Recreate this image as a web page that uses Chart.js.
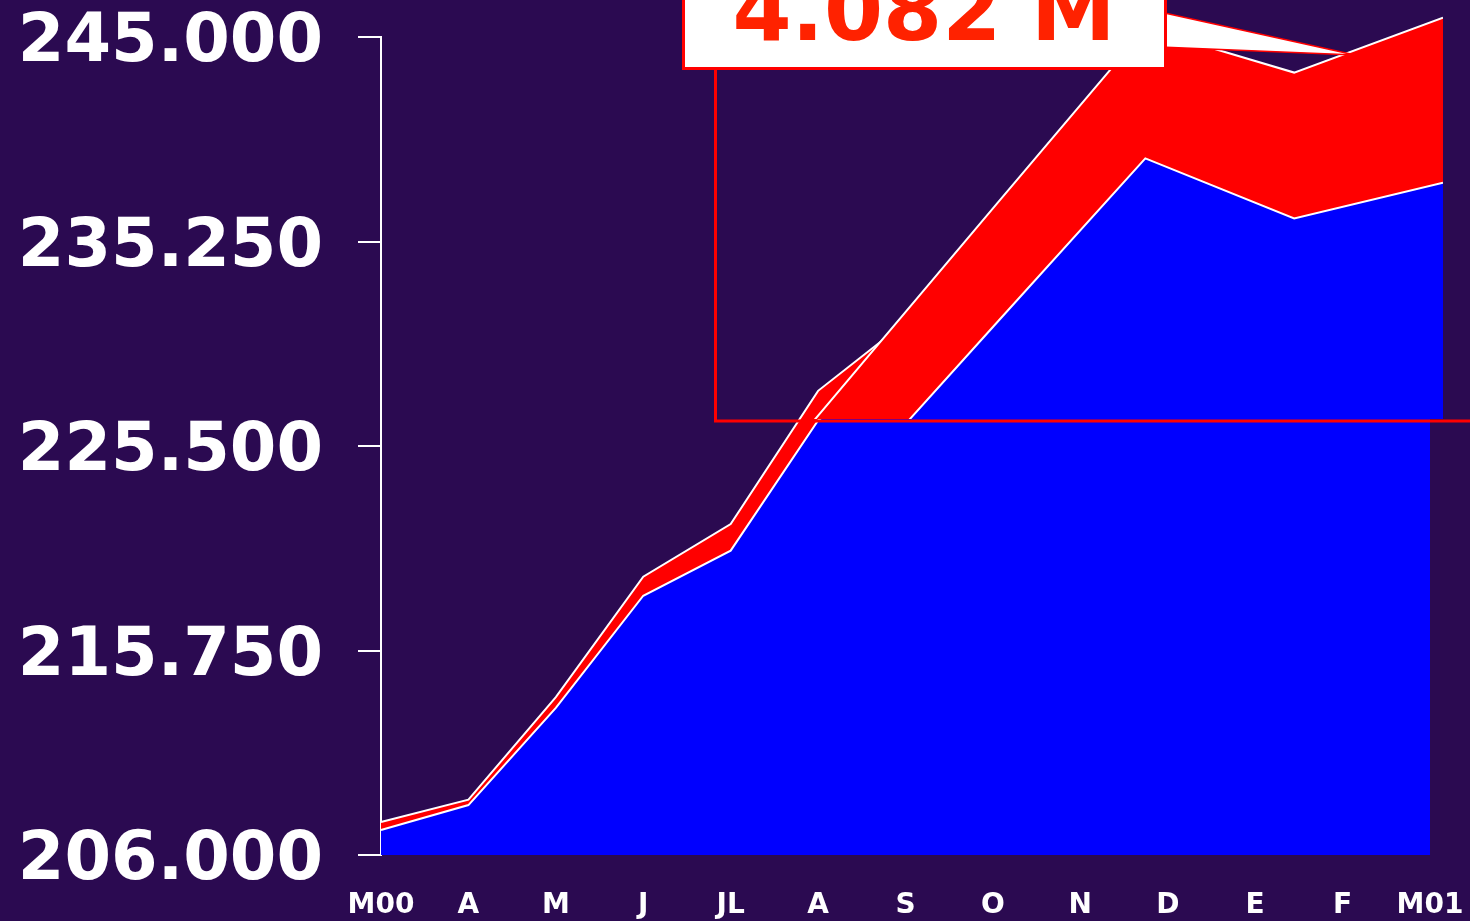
<!DOCTYPE html>
<html><head><meta charset="utf-8">
<script src="https://cdn.jsdelivr.net/npm/chart.js@4.4.1/dist/chart.umd.min.js"></script>
<style>
html,body{margin:0;padding:0;background:#2b0a51;overflow:hidden;}
#wrap{position:relative;width:1470px;height:921px;}
#main{position:absolute;left:0;top:0;}
#insetClip{position:absolute;left:717px;top:0;width:753px;height:419px;overflow:hidden;}
#inset{position:absolute;left:-1060px;top:-27px;}
#overlay{position:absolute;left:0;top:0;pointer-events:none;}
</style></head><body>
<div id="wrap">
<canvas id="main" width="1470" height="921"></canvas>
<div id="insetClip"><canvas id="inset" width="1786" height="1393"></canvas></div>
<canvas id="overlay" width="1470" height="921"></canvas>
</div>
<script>
const categories = ['M00','A','M','J','JL','A','S','O','N','D','E','F','M01'];
const blueValues = [207.19, 208.38, 213.01, 218.36, 220.51, 226.72, 229.9, 227.0, 230.58, 235.20, 239.81, 238.13, 239.13];
const redValues  = [0.38, 0.26, 0.52, 0.91, 1.27, 1.41, 1.5, 1.65, 3.01, 3.33, 3.64, 4.082, 4.62];
const yTicks = [206, 215.75, 225.5, 235.25, 245];
const calloutIndex = 11;

const WHITE = '#ffffff', BLUE = '#0000ff', RED = '#ff0000';

function makeDatasets(){
  return [
    {label:'Blue', data:blueValues.slice(), borderColor:WHITE, borderWidth:2, backgroundColor:BLUE, fill:'start', pointRadius:0, pointHoverRadius:0, tension:0},
    {label:'Red', data:redValues.slice(), borderColor:WHITE, borderWidth:2, backgroundColor:RED, fill:'-1', pointRadius:0, pointHoverRadius:0, tension:0}
  ];
}
function zeroPad(s){ s.paddingTop = 0; s.paddingBottom = 0; s.paddingLeft = 0; s.paddingRight = 0; }

new Chart(document.getElementById('main'), {
  type:'line',
  data:{labels:categories, datasets:makeDatasets()},
  options:{
    responsive:false, animation:false, devicePixelRatio:1, events:[],
    layout:{autoPadding:false, padding:{left:0,right:40,top:37,bottom:0}},
    plugins:{legend:{display:false}, tooltip:{enabled:false}},
    scales:{
      x:{offset:false, grid:{display:false, drawTicks:false}, border:{display:false},
         ticks:{color:WHITE, font:{family:'DejaVu Sans', weight:'bold', size:28}, padding:34, autoSkip:false, maxRotation:0, minRotation:0},
         afterFit(s){ s.height = 66; zeroPad(s); }},
      y:{stacked:true, min:206, max:245,
         grid:{display:true, drawOnChartArea:false, drawTicks:true, tickLength:23, color:WHITE, lineWidth:2},
         border:{display:true, color:WHITE, width:2},
         ticks:{color:WHITE, font:{family:'DejaVu Sans', weight:'bold', size:67}, padding:35, labelOffset:7, callback:v=>Number(v).toFixed(3)},
         afterBuildTicks(s){ s.ticks = yTicks.map(v=>({value:v})); },
         afterFit(s){ s.width = 381; zeroPad(s); }}
    }
  }
});

new Chart(document.getElementById('inset'), {
  type:'line',
  data:{labels:categories, datasets:makeDatasets()},
  options:{
    responsive:false, animation:false, devicePixelRatio:1, events:[],
    layout:{autoPadding:false, padding:0},
    plugins:{legend:{display:false}, tooltip:{enabled:false}},
    scales:{
      x:{display:false, offset:false},
      y:{display:false, stacked:true, min:206, max:245}
    }
  }
});

// annotation overlay: zoom frame + callout label
const o = document.getElementById('overlay').getContext('2d');
o.strokeStyle = RED; o.lineWidth = 3;
o.strokeRect(715.5, -50, 1000, 471);
o.beginPath(); o.moveTo(1160,12); o.lineTo(1355,55); o.lineTo(1160,47); o.closePath();
o.fillStyle = WHITE; o.fill(); o.strokeStyle = RED; o.lineWidth = 1.5; o.stroke();
o.fillStyle = WHITE; o.fillRect(683.5,-50,482,118.5);
o.strokeStyle = RED; o.lineWidth = 3; o.strokeRect(683.5,-50,482,118.5);
o.font = 'bold 85px "DejaVu Sans"'; o.fillStyle = '#ff2200'; o.textAlign = 'center'; o.textBaseline = 'alphabetic';
o.fillText(redValues[calloutIndex].toFixed(3) + ' M', 924, 40);
</script>
</body></html>
